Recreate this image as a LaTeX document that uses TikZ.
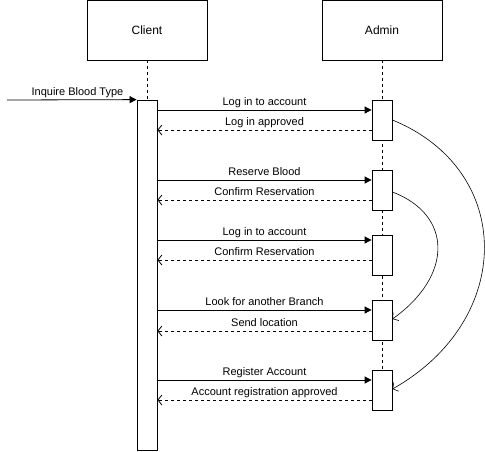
\documentclass[tikz,border=0pt]{standalone}
\usepackage{fontspec}
\setmainfont{Liberation Sans}
\usetikzlibrary{arrows.meta}
\begin{document}
\begin{tikzpicture}[x=1pt,y=-1pt,line width=0.8pt,
  actor/.style={draw,fill=white,minimum width=120pt,minimum height=60pt,font=\fontsize{12}{14}\selectfont},
  actbox/.style={draw,fill=white,minimum width=20pt,inner sep=0pt},
  lifeline/.style={dash pattern=on 3pt off 3pt},
  msg/.style={-{Triangle[length=7pt,width=7pt]}},
  ret/.style={dashed,dash pattern=on 3pt off 3pt,-{Straight Barb[length=4pt,width=10pt]}},
  jump/.style={line width=0.6pt,-{Straight Barb[length=4pt,width=10pt]}},
  lbl/.style={anchor=base,font=\fontsize{11}{13}\selectfont,inner sep=0pt}]
\useasboundingbox (0,0) rectangle (485,451);
\node[actor] (client) at (147,30) {Client};
\node[actor] (admin) at (382,30) {Admin};
% lifelines
\coordinate (cl) at (147,100);
\coordinate (al) at (382,370);
\draw[lifeline] (client.south) -- (cl);
\draw[lifeline] (admin.south) -- (al);
% activations
\node[actbox,minimum height=350pt] (ca) at (147,275) {};
\node[actbox,minimum height=40pt] (a1) at (382,120) {};
\node[actbox,minimum height=40pt] (a2) at (382,190) {};
\node[actbox,minimum height=40pt] (a3) at (382,255) {};
\node[actbox,minimum height=40pt] (a4) at (382,320) {};
\node[actbox,minimum height=40pt] (a5) at (382,390) {};
% inquire
\coordinate (start) at (7,100);
\draw[msg] (start) -- (ca.north west);
\node[lbl] (lq) at (77.5,95) {Inquire Blood Type};
% messages
\draw[msg] (ca.east |- 0,110) -- (a1.west |- 0,110);
\node[lbl] at (264.5,105.5) {Log in to account};
\draw[ret] (a1.west |- 0,130) -- (ca.east |- 0,130);
\node[lbl] at (264.5,125) {Log in approved};
\draw[msg] (ca.east |- 0,180) -- (a2.west |- 0,180);
\node[lbl] at (264.5,175.5) {Reserve Blood};
\draw[ret] (a2.west |- 0,200) -- (ca.east |- 0,200);
\node[lbl] at (264.5,195) {Confirm Reservation};
\draw[msg] (ca.east |- 0,240) -- (a3.west |- 0,240);
\node[lbl] at (264.5,235.5) {Log in to account};
\draw[ret] (a3.west |- 0,260) -- (ca.east |- 0,260);
\node[lbl] at (264.5,255) {Confirm Reservation};
\draw[msg] (ca.east |- 0,310) -- (a4.west |- 0,310);
\node[lbl] at (264.5,305.5) {Look for another Branch};
\draw[ret] (a4.west |- 0,331) -- (ca.east |- 0,331);
\node[lbl] at (264.5,326) {Send location};
\draw[msg] (ca.east |- 0,380) -- (a5.west |- 0,380);
\node[lbl] at (264.5,375.5) {Register Account};
\draw[ret] (a5.west |- 0,400) -- (ca.east |- 0,400);
\node[lbl] at (264.5,395) {Account registration approved};
% curved connectors
\draw[jump] (a1.east |- 0,120) .. controls (515,170) and (515,320) .. (a5.east |- 0,389);
\draw[jump] (a2.east |- 0,192) .. controls (453,215) and (453,276) .. (a4.east |- 0,319);
\end{tikzpicture}
\end{document}
